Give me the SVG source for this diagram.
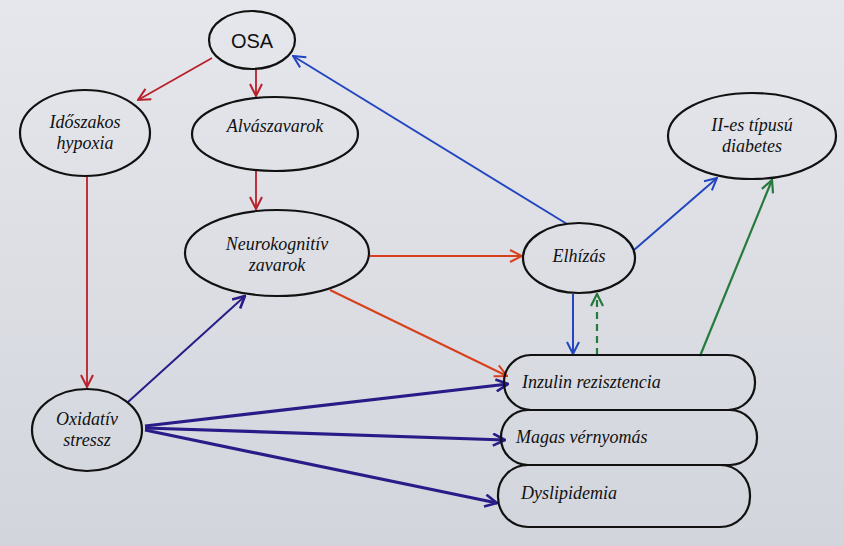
<svg xmlns="http://www.w3.org/2000/svg" width="844" height="546" viewBox="0 0 844 546">
<defs>
<linearGradient id="bg" x1="0" y1="0" x2="0" y2="1">
<stop offset="0" stop-color="#e6e7ec"/>
<stop offset="1" stop-color="#d2d5dc"/>
</linearGradient>
<marker id="mRed" viewBox="0 0 14 14" refX="13" refY="7" markerWidth="14" markerHeight="14" markerUnits="userSpaceOnUse" orient="auto"><path d="M1,1 L13,7 L1,13" fill="none" stroke="#b8202a" stroke-width="2"/></marker>
<marker id="mOr" viewBox="0 0 14 14" refX="13" refY="7" markerWidth="14" markerHeight="14" markerUnits="userSpaceOnUse" orient="auto"><path d="M1,1 L13,7 L1,13" fill="none" stroke="#d8401c" stroke-width="2"/></marker>
<marker id="mBlue" viewBox="0 0 14 14" refX="13" refY="7" markerWidth="14" markerHeight="14" markerUnits="userSpaceOnUse" orient="auto"><path d="M1,1 L13,7 L1,13" fill="none" stroke="#2346c0" stroke-width="2"/></marker>
<marker id="mInd" viewBox="0 0 14 14" refX="13" refY="7" markerWidth="14" markerHeight="14" markerUnits="userSpaceOnUse" orient="auto"><path d="M1,1 L13,7 L1,13" fill="none" stroke="#2a1c88" stroke-width="2.6"/></marker>
<marker id="mGreen" viewBox="0 0 14 14" refX="13" refY="7" markerWidth="14" markerHeight="14" markerUnits="userSpaceOnUse" orient="auto"><path d="M1,1 L13,7 L1,13" fill="none" stroke="#267a3c" stroke-width="2.2"/></marker>
</defs>
<style>
.n{fill:none;stroke:#111;stroke-width:2.2}
.t{font-family:"Liberation Serif","DejaVu Serif",serif;font-style:italic;font-size:18px;fill:#111;text-anchor:middle}
.l{text-anchor:start}
.red{stroke:#b8202a;stroke-width:1.8;fill:none;marker-end:url(#mRed)}
.or{stroke:#d8401c;stroke-width:2;fill:none;marker-end:url(#mOr)}
.blue{stroke:#2346c0;stroke-width:2;fill:none;marker-end:url(#mBlue)}
.ind{stroke:#2a1c88;stroke-width:3.2;fill:none;marker-end:url(#mInd)}
.ind2{stroke:#2a1c88;stroke-width:2;fill:none;marker-end:url(#mInd)}
.green{stroke:#267a3c;stroke-width:2.2;fill:none;marker-end:url(#mGreen)}
</style>
<rect width="844" height="546" fill="url(#bg)"/>
<g id="connectors">
<line class="red" x1="212" y1="58" x2="138" y2="100"/>
<line class="red" x1="256" y1="69" x2="256" y2="96"/>
<line class="red" x1="256" y1="171" x2="256" y2="209"/>
<line class="red" x1="87" y1="177" x2="87" y2="387"/>
<line class="or" x1="370" y1="256" x2="522" y2="256"/>
<line class="or" x1="330" y1="290" x2="507" y2="376"/>
<line class="blue" x1="567" y1="224" x2="293" y2="56"/>
<line class="blue" x1="634" y1="250" x2="717" y2="178"/>
<line class="blue" x1="573" y1="294" x2="573" y2="354"/>
<line class="green" x1="597" y1="355" x2="597" y2="294" stroke-dasharray="7,5"/>
<line class="green" x1="700" y1="356" x2="772" y2="180"/>
<line class="ind2" x1="128" y1="402" x2="245" y2="296"/>
<line class="ind" x1="145" y1="426" x2="508" y2="384"/>
<line class="ind" x1="145" y1="428" x2="505" y2="440"/>
<line class="ind" x1="145" y1="430" x2="497" y2="503"/>
</g>
<g id="osa"><ellipse class="n" cx="252" cy="40" rx="43" ry="29"/><text x="252" y="48" class="t" style="font-style:normal;font-family:'Liberation Sans',sans-serif;font-size:20px">OSA</text></g>
<g id="hypoxia"><ellipse class="n" cx="85" cy="133" rx="65" ry="43"/><text x="85" y="128" class="t">Időszakos</text><text x="85" y="149" class="t">hypoxia</text></g>
<g id="alvas"><ellipse class="n" cx="275" cy="134" rx="83" ry="37"/><text x="275" y="132" class="t">Alvászavarok</text></g>
<g id="neuro"><ellipse class="n" cx="277" cy="253" rx="92" ry="43"/><text x="277" y="250" class="t">Neurokognitív</text><text x="277" y="271" class="t">zavarok</text></g>
<g id="elhizas"><ellipse class="n" cx="579" cy="258" rx="56" ry="35"/><text x="579" y="262" class="t">Elhízás</text></g>
<g id="diabetes"><ellipse class="n" cx="752" cy="136" rx="84" ry="43"/><text x="752" y="131" class="t">II-es típusú</text><text x="752" y="152" class="t">diabetes</text></g>
<g id="inzulin"><rect class="n" x="504" y="355" width="251" height="55" rx="27"/><text x="522" y="388" class="t l">Inzulin rezisztencia</text></g>
<g id="magas"><rect class="n" x="501" y="410" width="256" height="55" rx="27"/><text x="516" y="443" class="t l">Magas vérnyomás</text></g>
<g id="dyslip"><rect class="n" x="498" y="465" width="252" height="62" rx="30"/><text x="521" y="499" class="t l">Dyslipidemia</text></g>
<g id="oxidativ"><ellipse class="n" cx="87" cy="430" rx="55" ry="41"/><text x="87" y="425" class="t">Oxidatív</text><text x="87" y="446" class="t">stressz</text></g>
</svg>
